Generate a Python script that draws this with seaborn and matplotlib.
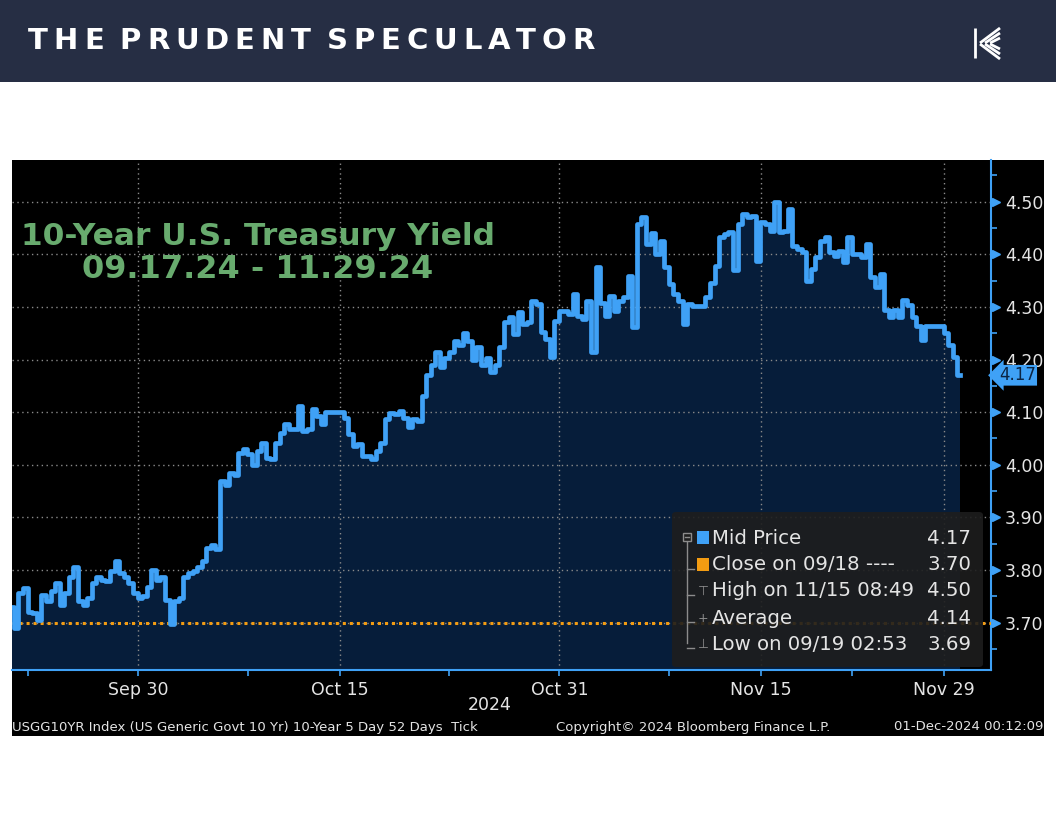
import numpy as np
import pandas as pd
import matplotlib
matplotlib.use("Agg")
import matplotlib.pyplot as plt
import matplotlib.patches as mpatches
from matplotlib.lines import Line2D
import seaborn as sns

# =============================================================================
# DATA — 10Y yield, one sample per quarter trading day (weekends removed)
# =============================================================================

ANCHOR_DATE = "2024-09-30"   # x = 0 (business days counted from here)
T_START = -6.9               # first sample, business days from anchor
T_STEP = 0.25                # quarter of a trading day

YIELD = [
    3.730, 3.690, 3.756, 3.765, 3.720, 3.718, 3.705, 3.752, 3.740, 3.759,
    3.775, 3.733, 3.756, 3.787, 3.806, 3.740, 3.733, 3.746, 3.775, 3.787,
    3.781, 3.778, 3.797, 3.816, 3.794, 3.787, 3.775, 3.756, 3.746, 3.750,
    3.768, 3.800, 3.781, 3.787, 3.743, 3.698, 3.740, 3.746, 3.787, 3.794,
    3.797, 3.806, 3.816, 3.841, 3.848, 3.840, 3.969, 3.962, 3.985, 3.981,
    4.023, 4.030, 4.020, 4.000, 4.026, 4.042, 4.013, 4.010, 4.042, 4.061,
    4.077, 4.067, 4.067, 4.111, 4.064, 4.067, 4.105, 4.092, 4.077, 4.100,
    4.100, 4.100, 4.100, 4.089, 4.058, 4.035, 4.039, 4.016, 4.016, 4.010,
    4.026, 4.042, 4.086, 4.099, 4.097, 4.102, 4.089, 4.071, 4.086, 4.083,
    4.130, 4.171, 4.189, 4.214, 4.186, 4.202, 4.214, 4.236, 4.227, 4.250,
    4.236, 4.199, 4.224, 4.189, 4.202, 4.177, 4.189, 4.224, 4.271, 4.281,
    4.249, 4.291, 4.267, 4.271, 4.311, 4.305, 4.252, 4.239, 4.205, 4.274,
    4.292, 4.292, 4.286, 4.324, 4.283, 4.277, 4.311, 4.215, 4.375, 4.308,
    4.283, 4.320, 4.292, 4.311, 4.318, 4.359, 4.261, 4.457, 4.470, 4.419,
    4.441, 4.400, 4.425, 4.375, 4.343, 4.324, 4.311, 4.267, 4.305, 4.302,
    4.302, 4.302, 4.318, 4.346, 4.378, 4.432, 4.438, 4.442, 4.370, 4.458,
    4.477, 4.470, 4.473, 4.388, 4.461, 4.458, 4.445, 4.500, 4.442, 4.445,
    4.486, 4.416, 4.410, 4.404, 4.350, 4.372, 4.394, 4.426, 4.432, 4.404,
    4.397, 4.407, 4.385, 4.432, 4.400, 4.400, 4.394, 4.420, 4.356, 4.337,
    4.363, 4.294, 4.281, 4.294, 4.281, 4.314, 4.303, 4.281, 4.263, 4.238,
    4.264, 4.264, 4.264, 4.264, 4.250, 4.228, 4.205, 4.170,
]

TICK_DATES = ["2024-09-30", "2024-10-15", "2024-10-31", "2024-11-15", "2024-11-29"]
TICK_LABELS = ["Sep 30", "Oct 15", "Oct 31", "Nov 15", "Nov 29"]
MINOR_DATES = ["2024-09-20", "2024-10-08", "2024-10-23", "2024-11-08", "2024-11-22"]

Y_TICKS = [3.70, 3.80, 3.90, 4.00, 4.10, 4.20, 4.30, 4.40, 4.50]
Y_MINOR = [3.65, 3.75, 3.85, 3.95, 4.05, 4.15, 4.25, 4.35, 4.45, 4.55]
Y_LIM = (3.6097, 4.5793)
X_LIM = (-6.878, 46.56)

CLOSE_PREV = 3.70

LEGEND_LABELS = ["Mid Price", "Close on 09/18 ----", "High on 11/15 08:49", "Average", "Low on 09/19 02:53"]
LEGEND_VALUES = ["4.17", "3.70", "4.50", "4.14", "3.69"]

TITLE_LINES = ["10-Year U.S. Treasury Yield", "09.17.24 - 11.29.24"]
HEADER = "THE PRUDENT SPECULATOR"
FOOTER_LEFT = "USGG10YR Index (US Generic Govt 10 Yr) 10-Year 5 Day 52 Days  Tick"
FOOTER_MID = "Copyright\u00a9 2024 Bloomberg Finance L.P."
FOOTER_RIGHT = "01-Dec-2024 00:12:09"

# colours
NAVY_HEADER = "#262e44"
LINE_BLUE = "#3fa1f6"
FILL_NAVY = "#061d3a"
ORANGE = "#f39c12"
GREEN_TITLE = "#68ab6e"
TEXT_GREY = "#e4e4e4"
GRID_GREY = "#8a8a8a"

W, H = 1056, 816
NARROW = ["Liberation Sans Narrow", "DejaVu Sans"]


def fx(px):
    return px / W


def fy(py):
    return 1 - py / H


def draw_spaced_text(fig, text, x0, y, width, space_px=10, **kw):
    """Place letters one by one so the word mark spans `width` pixels."""
    renderer = fig.canvas.get_renderer()
    widths = []
    for ch in text:
        if ch == " ":
            widths.append(None)
            continue
        t = fig.text(0, 0, ch, **kw)
        widths.append(t.get_window_extent(renderer).width)
        t.remove()
    n_sp = sum(w is None for w in widths)
    used = sum(w for w in widths if w is not None) + n_sp * space_px
    track = (width - used) / (len(text) - 1)
    x = x0
    for ch, w in zip(text, widths):
        if w is None:
            x += space_px + track
            continue
        fig.text(fx(x), fy(y), ch, ha="left", va="center", **kw)
        x += w + track


# =============================================================================
# FIGURE
# =============================================================================

fig = plt.figure(figsize=(W / 100, H / 100), dpi=100)
fig.patch.set_facecolor("white")

# header band + black chart panel (behind the axes)
fig.patches.append(mpatches.Rectangle((0, fy(82)), 1, 82 / H, transform=fig.transFigure,
                                      fc=NAVY_HEADER, lw=0, zorder=-2))
fig.patches.append(mpatches.Rectangle((fx(12), fy(736)), (1044 - 12) / W, (736 - 160) / H,
                                      transform=fig.transFigure, fc="black", lw=0, zorder=-2))

draw_spaced_text(fig, HEADER, 28, 41, 567, space_px=4,
                 fontsize=21, weight="bold", color="white", family="DejaVu Sans")

# logo (stylised K: stem + striped arms)
logo = [((975, 975), (28, 58))]
for k in range(3):
    logo.append(((980 + 5 * k, 1000), (43, 28 + 5 * k)))
    logo.append(((980 + 5 * k, 1000), (44, 59 - 5 * k)))
for xs, ys in logo:
    fig.lines.append(Line2D([fx(v) for v in xs], [fy(v) for v in ys], transform=fig.transFigure,
                            color="white", lw=2.0, solid_capstyle="butt"))

ax = fig.add_axes([fx(12), fy(670), (991 - 12) / W, (670 - 160) / H])
ax.set_facecolor("black")

df = pd.DataFrame({"t": T_START + T_STEP * np.arange(len(YIELD)), "yield": YIELD})

ax.fill_between(df["t"], df["yield"], Y_LIM[0], step="mid", color=FILL_NAVY, lw=0, zorder=1)
sns.lineplot(data=df, x="t", y="yield", ax=ax, color=LINE_BLUE, lw=3.4,
             drawstyle="steps-mid", estimator=None, sort=False, zorder=3)
ax.axhline(CLOSE_PREV, color=ORANGE, lw=2.2, ls=(0, (1, 1.3)), zorder=2.6)

ax.set_xlim(*X_LIM)
ax.set_ylim(*Y_LIM)
ax.set_xlabel("")
ax.set_ylabel("")

# x axis: business-day positions of the dates
tick_pos = [np.busday_count(ANCHOR_DATE, d) for d in TICK_DATES]
minor_pos = [np.busday_count(ANCHOR_DATE, d) for d in MINOR_DATES]
ax.set_xticks(tick_pos)
ax.set_xticklabels(TICK_LABELS)
ax.set_xticks(minor_pos, minor=True)
ax.tick_params(axis="x", which="both", length=4, width=1.2, color=LINE_BLUE,
               labelsize=12.5, labelcolor=TEXT_GREY, pad=4)

# y axis on the right
ax.yaxis.tick_right()
ax.set_yticks(Y_TICKS)
ax.set_yticklabels([f"{v:.2f}" for v in Y_TICKS])
ax.set_yticks(Y_MINOR, minor=True)
ax.tick_params(axis="y", which="major", length=0, pad=10, labelsize=12.5, labelcolor=TEXT_GREY)
ax.tick_params(axis="y", which="minor", length=4, width=1.2, color=LINE_BLUE, direction="out")
ax.plot([1.0055] * len(Y_TICKS), Y_TICKS, marker=">", ms=5.5, color=LINE_BLUE, ls="none",
        transform=ax.get_yaxis_transform(), clip_on=False)

ax.grid(True, which="major", color=GRID_GREY, lw=1, ls=(0, (1, 2.5)))
ax.set_axisbelow("line")

for side in ["left", "top"]:
    ax.spines[side].set_visible(False)
for side in ["right", "bottom"]:
    ax.spines[side].set_color(LINE_BLUE)
    ax.spines[side].set_linewidth(1.5)

# last value tag
ax.text(1.008, YIELD[-1], f"{YIELD[-1]:.2f}", transform=ax.get_yaxis_transform(),
        ha="left", va="center", fontsize=12, color="#0b2544", zorder=6, clip_on=False,
        bbox=dict(boxstyle="larrow,pad=0.08", fc=LINE_BLUE, ec="none"))

# chart title
fig.text(fx(258), fy(236), TITLE_LINES[0], ha="center", va="center",
         fontsize=22.5, weight="bold", color=GREEN_TITLE)
fig.text(fx(258), fy(270), TITLE_LINES[1], ha="center", va="center",
         fontsize=23, weight="bold", color=GREEN_TITLE)

# =============================================================================
# LEGEND BOX (Bloomberg style)
# =============================================================================

fig.patches.append(mpatches.FancyBboxPatch((fx(672), fy(667)), (983 - 672) / W, (667 - 512) / H,
                                           boxstyle="round,pad=0,rounding_size=0.004",
                                           transform=fig.transFigure, fc="#1e1e1e", ec="none",
                                           alpha=0.9, zorder=5))
row_y = [538, 565, 591, 618, 644]
tree_col = "#8c8c8c"
fig.lines.append(Line2D([fx(687), fx(687)], [fy(542), fy(643)], transform=fig.transFigure,
                        color=tree_col, lw=1, zorder=6))
fig.patches.append(mpatches.Rectangle((fx(683), fy(541)), 8 / W, 8 / H, transform=fig.transFigure,
                                      fc="#1e1e1e", ec=tree_col, lw=1, zorder=7))
fig.lines.append(Line2D([fx(685), fx(689)], [fy(537), fy(537)], transform=fig.transFigure,
                        color=tree_col, lw=1, zorder=8))
for y in row_y[1:]:
    fig.lines.append(Line2D([fx(687), fx(694)], [fy(y + 4), fy(y + 4)], transform=fig.transFigure,
                            color=tree_col, lw=1, zorder=6))

for col, y in zip([LINE_BLUE, ORANGE], row_y[:2]):
    fig.patches.append(mpatches.Rectangle((fx(697), fy(y + 6)), 12 / W, 13 / H,
                                          transform=fig.transFigure, fc=col, lw=0, zorder=7))
for sym, y in zip(["\u22a4", "+", "\u22a5"], row_y[2:]):
    fig.text(fx(703), fy(y), sym, ha="center", va="center", fontsize=9, color=tree_col, zorder=7)

for lab, val, y in zip(LEGEND_LABELS, LEGEND_VALUES, row_y):
    fig.text(fx(712), fy(y), lab, ha="left", va="center", fontsize=14.2, color=TEXT_GREY, zorder=8)
    fig.text(fx(971), fy(y), val, ha="right", va="center", fontsize=14.2, color=TEXT_GREY, zorder=8)

# =============================================================================
# FOOTER
# =============================================================================

fig.text(fx(490), fy(705), "2024", ha="center", va="center", fontsize=12.5, color=TEXT_GREY)
fig.text(fx(12), fy(727), FOOTER_LEFT, ha="left", va="center", fontsize=9.5, color=TEXT_GREY, family=NARROW)
fig.text(fx(556), fy(727), FOOTER_MID, ha="left", va="center", fontsize=9.5, color=TEXT_GREY, family=NARROW)
fig.text(fx(1043), fy(727), FOOTER_RIGHT, ha="right", va="center", fontsize=9.5, color=TEXT_GREY, family=NARROW)

fig.savefig("out.png", dpi=100)
